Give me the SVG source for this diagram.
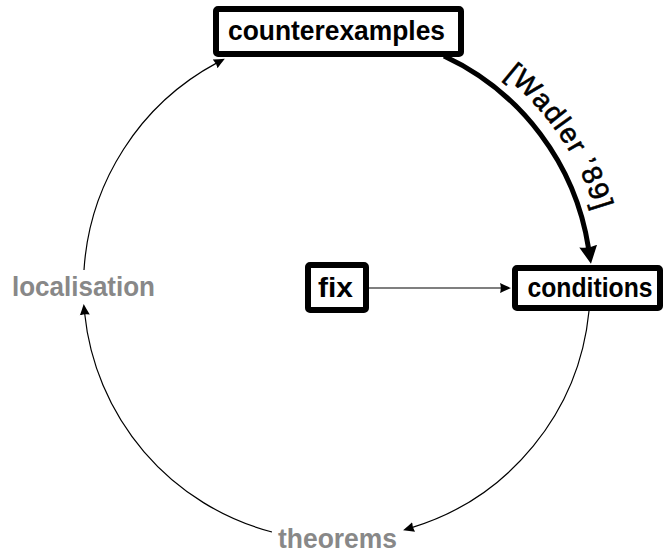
<svg xmlns="http://www.w3.org/2000/svg" width="668" height="554" viewBox="0 0 668 554">
  <style>
    .box { fill: #ffffff; stroke: #000000; stroke-width: 6; }
    .lbl { font-family: "Liberation Sans", Arial, sans-serif; font-weight: bold; font-size: 28px; text-anchor: middle; fill: #000000; }
    .gray { fill: #888888; }
    .thin { fill: none; stroke: #000000; stroke-width: 1.2; marker-end: url(#thinArrow); }
    .thick { fill: none; stroke: #000000; stroke-width: 5; marker-end: url(#thickArrow); }
    .edge-lbl { font-family: "Liberation Sans", Arial, sans-serif; font-size: 28px; fill: #000000; stroke: #000000; stroke-width: 0.6; letter-spacing: 1.5px; }
  </style>
  <defs>
    <marker id="thinArrow" markerUnits="userSpaceOnUse" viewBox="0 -6 12 12" refX="2" refY="0" markerWidth="12" markerHeight="12" orient="auto">
      <path d="M0,-5 Q5,-2.5 11,0 Q5,2.5 0,5 Q1.5,0 0,-5 Z" fill="#000000"/>
    </marker>
    <marker id="thickArrow" markerUnits="userSpaceOnUse" viewBox="0 -10 20 20" refX="2" refY="0" markerWidth="20" markerHeight="20" orient="auto">
      <path d="M0,-9 Q8,-5 18,0 Q8,5 0,9 Q3,0 0,-9 Z" fill="#000000"/>
    </marker>
    <path id="labelArc" d="M 428.8 34.3 A 270 270 0 0 1 606.3 297.4" fill="none"/>
  </defs>

  <g id="connectors">
    <path id="e-counter-cond" class="thick" d="M 444 56 A 255 255 0 0 1 588.5 248"/>
    <text class="edge-lbl"><textPath href="#labelArc" startOffset="50%" text-anchor="middle">[Wadler ’89]</textPath></text>
    <path id="e-cond-theorems" class="thin" d="M 589 311 A 252 252 0 0 1 411.7 527.6"/>
    <path id="e-theorems-local" class="thin" d="M 272 532 A 253 253 0 0 1 84.6 313"/>
    <path id="e-local-counter" class="thin" d="M 84 270 A 253 253 0 0 1 216.9 62.9"/>
    <path id="e-fix-cond" class="thin" d="M 369 288 L 502 288"/>
  </g>

  <g id="counterexamples">
    <rect class="box" x="216" y="9" width="245" height="45" rx="2"/>
    <text class="lbl" x="336.5" y="40" textLength="217" lengthAdjust="spacingAndGlyphs">counterexamples</text>
  </g>

  <g id="fix">
    <rect class="box" x="308" y="265" width="58" height="45" rx="2"/>
    <text class="lbl" x="335.5" y="297" textLength="35" lengthAdjust="spacingAndGlyphs">fix</text>
  </g>

  <g id="conditions">
    <rect class="box" x="515" y="268" width="145" height="40" rx="2"/>
    <text class="lbl" x="590" y="297" textLength="125" lengthAdjust="spacingAndGlyphs">conditions</text>
  </g>

  <g id="localisation">
    <text class="lbl gray" x="83.5" y="296" textLength="143" lengthAdjust="spacingAndGlyphs">localisation</text>
  </g>

  <g id="theorems">
    <text class="lbl gray" x="337.5" y="548" textLength="119" lengthAdjust="spacingAndGlyphs">theorems</text>
  </g>
</svg>
